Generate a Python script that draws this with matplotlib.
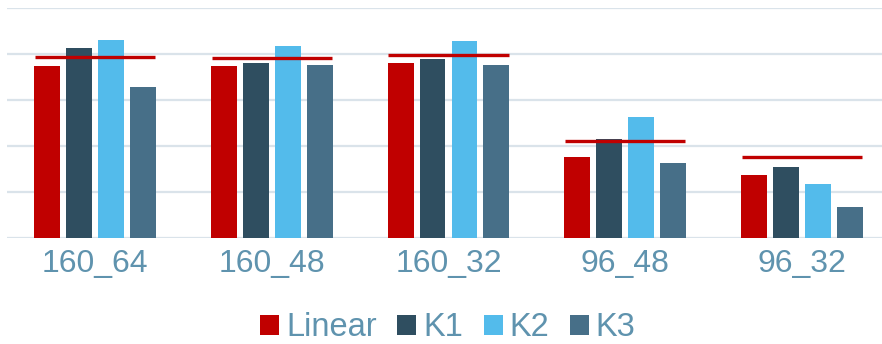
import matplotlib
matplotlib.use("Agg")
import matplotlib.pyplot as plt
from matplotlib.patches import Patch
import numpy as np

plt.rcParams['font.family'] = ['Liberation Sans', 'DejaVu Sans']

categories = ["160_64", "160_48", "160_32", "96_48", "96_32"]
series_names = ["Linear", "K1", "K2", "K3"]
linear = [3.73, 3.73, 3.79, 1.75, 1.36]
k1 = [4.12, 3.79, 3.88, 2.14, 1.53]
k2 = [4.29, 4.16, 4.27, 2.62, 1.16]
k3 = [3.27, 3.75, 3.75, 1.62, 0.66]
reference = [3.92, 3.90, 3.97, 2.10, 1.76]

colors = ["#C00000", "#2F4E60", "#53BBEB", "#476F88"]
text_color = "#5F93AE"
grid_color = "#DAE3EA"

fig = plt.figure(figsize=(8.82, 3.44), dpi=100)
W, H = 882, 344
left_px, right_px = 7, 890
top_px, base_px = 7.5, 237.5
ax = fig.add_axes([left_px / W, (H - base_px) / H,
                   (right_px - left_px) / W, (base_px - top_px) / H])

x = np.arange(len(categories))
bar_w = 0.147
pitch = 0.181
for i, (vals, c) in enumerate(zip([linear, k1, k2, k3], colors)):
    ax.bar(x + (i - 1.5) * pitch, vals, width=bar_w, color=c, zorder=3,
           label=series_names[i])

# reference level per group, drawn as a short horizontal segment
line_w = 0.68
for xi, r in zip(x, reference):
    ax.hlines(r, xi - line_w / 2, xi + line_w / 2, color="#C00000",
              lw=2.4, zorder=4)

for g in range(0, 6):
    ax.axhline(g, color=grid_color, lw=1.6, zorder=1)

ax.set_xlim(-0.5, len(categories) - 0.5)
ax.set_ylim(0, 5)
ax.set_yticks([])
ax.set_xticks(x)
ax.set_xticklabels(categories, fontsize=23, color=text_color)
ax.tick_params(axis='x', length=0, pad=8.5)
for s in ax.spines.values():
    s.set_visible(False)

handles = [Patch(facecolor=c, edgecolor='none') for c in colors]
leg = fig.legend(handles, series_names, loc='center', bbox_to_anchor=(448 / W, 1 - 328 / H),
                 ncol=4, frameon=False, fontsize=23.5, handlelength=0.58,
                 handleheight=0.58, handletextpad=0.22, columnspacing=0.62,
                 borderaxespad=0)
for t in leg.get_texts():
    t.set_color(text_color)

fig.savefig("out.png", dpi=100)
